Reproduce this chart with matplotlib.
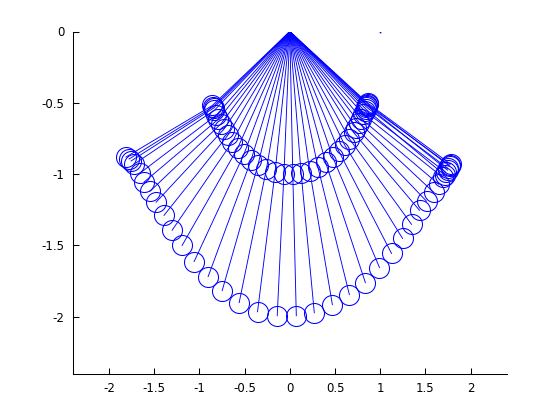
import matplotlib
matplotlib.use("Agg")
import matplotlib.pyplot as plt

# Double pendulum snapshots: inner bob (x1, y1) and outer bob (x2, y2)
x1 = [-0.855, -0.849, -0.843, -0.834, -0.811, -0.789, -0.762, -0.729, -0.686, -0.635,
      -0.576, -0.508, -0.429, -0.352, -0.259, -0.163, -0.065, 0.033, 0.125, 0.220,
      0.311, 0.396, 0.474, 0.543, 0.606, 0.659, 0.706, 0.737, 0.768, 0.791,
      0.814, 0.830, 0.848, 0.857, 0.864, 0.861, 0.854, 0.840]
y1 = [-0.518, -0.528, -0.537, -0.552, -0.585, -0.614, -0.648, -0.685, -0.728, -0.773,
      -0.817, -0.862, -0.903, -0.936, -0.966, -0.987, -0.998, -0.999, -0.992, -0.976,
      -0.951, -0.918, -0.880, -0.840, -0.795, -0.752, -0.708, -0.676, -0.640, -0.612,
      -0.581, -0.558, -0.530, -0.515, -0.503, -0.508, -0.520, -0.543]
x2 = [-1.812, -1.778, -1.756, -1.723, -1.657, -1.612, -1.546, -1.479, -1.391, -1.302,
      -1.191, -1.058, -0.903, -0.748, -0.560, -0.357, -0.139, 0.072, 0.271, 0.471,
      0.659, 0.836, 0.992, 1.125, 1.247, 1.346, 1.435, 1.512, 1.590, 1.645,
      1.690, 1.723, 1.745, 1.767, 1.778, 1.767, 1.745, 1.712]
y2 = [-0.880, -0.894, -0.908, -0.930, -0.993, -1.056, -1.120, -1.197, -1.289, -1.394,
      -1.500, -1.613, -1.718, -1.817, -1.901, -1.965, -1.993, -1.993, -1.972, -1.915,
      -1.845, -1.761, -1.655, -1.556, -1.451, -1.352, -1.254, -1.190, -1.127, -1.070,
      -1.021, -0.986, -0.958, -0.937, -0.930, -0.944, -0.972, -1.007]
stray_pt = (1.0, 0.0)

xticks = [-2, -1.5, -1, -0.5, 0, 0.5, 1, 1.5, 2]
yticks = [-2, -1.5, -1, -0.5, 0]

plt.rcParams["axes.unicode_minus"] = False
plt.rcParams["font.family"] = ["DejaVu Sans"]

fig = plt.figure(figsize=(5.6, 4.2), dpi=100)
ax = fig.add_axes([0.13, 0.11, 0.775, 0.815])

blue = "#0000ff"
for a, b, c, d in zip(x1, y1, x2, y2):
    ax.plot([0, a, c], [0, b, d], color=blue, lw=0.65)
    ax.plot([a, c], [b, d], "o", ms=14.4, mfc="none", mec=blue, mew=0.75)
ax.plot([stray_pt[0]], [stray_pt[1]], "s", ms=1.2, color=blue, mew=0)

ax.set_xlim(-2.4, 2.4)
ax.set_ylim(-2.4, 0)
ax.set_xticks(xticks)
ax.set_yticks(yticks)
ax.set_xticklabels([f"{t:g}" for t in xticks])
ax.set_yticklabels([f"{t:g}" for t in yticks])
ax.tick_params(direction="in", length=4, width=0.75, labelsize=8.5, pad=6)
ax.spines["top"].set_visible(False)
ax.spines["right"].set_visible(False)
for s in ("left", "bottom"):
    ax.spines[s].set_linewidth(0.75)

fig.savefig("out.png", dpi=100)
